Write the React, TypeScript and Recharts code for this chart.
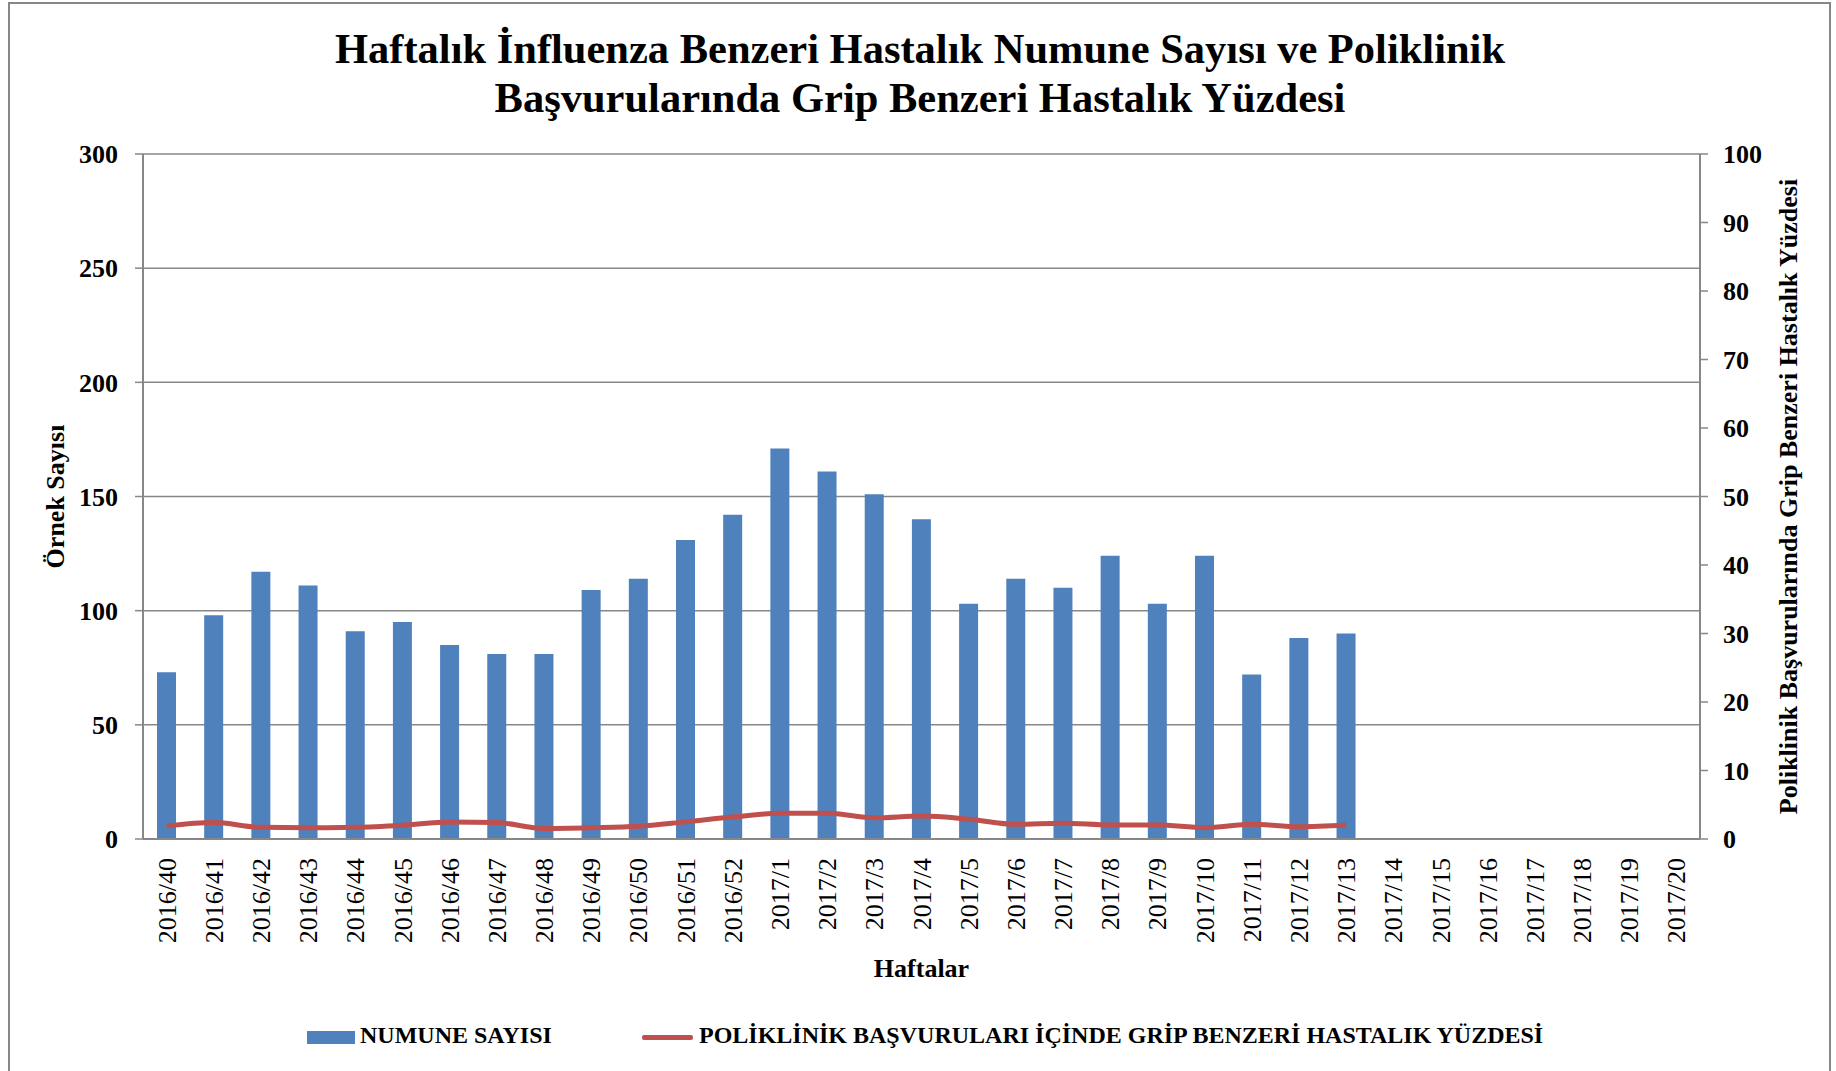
import React from "react";
import { ComposedChart, Bar, Line, XAxis, YAxis, CartesianGrid, Legend, Label } from "recharts";

const weeks = [
  "2016/40", "2016/41", "2016/42", "2016/43", "2016/44", "2016/45", "2016/46", "2016/47", "2016/48",
  "2016/49", "2016/50", "2016/51", "2016/52", "2017/1", "2017/2", "2017/3", "2017/4", "2017/5",
  "2017/6", "2017/7", "2017/8", "2017/9", "2017/10", "2017/11", "2017/12", "2017/13", "2017/14",
  "2017/15", "2017/16", "2017/17", "2017/18", "2017/19", "2017/20",
];

// numune sayısı (sol eksen)
const sampleCounts = [
  73, 98, 117, 111, 91, 95, 85, 81, 81, 109, 114, 131, 142, 171, 161, 151, 140, 103, 114, 110,
  124, 103, 124, 72, 88, 90, null, null, null, null, null, null, null,
];

// poliklinik başvurularında GBH yüzdesi (sağ eksen)
const ilkPercent = [
  1.9, 2.4, 1.7, 1.65, 1.7, 2.0, 2.5, 2.4, 1.55, 1.65, 1.85, 2.5, 3.2, 3.75, 3.75, 3.1, 3.35, 2.9,
  2.15, 2.3, 2.05, 2.05, 1.65, 2.15, 1.8, 2.05, null, null, null, null, null, null, null,
];

const leftTicks = [0, 50, 100, 150, 200, 250, 300];
const rightTicks = [0, 10, 20, 30, 40, 50, 60, 70, 80, 90, 100];

const data = weeks.map((week, i) => ({ week, numune: sampleCounts[i], yuzde: ilkPercent[i] }));

const FONT = '"Liberation Serif", "Times New Roman", serif';
const GRAY = "#878787";
const BLUE = "#4F81BD";
const RED = "#C0504D";

const WeekTick = (props: any) => {
  const { x, y, payload } = props;
  return (
    <text
      x={x}
      y={y}
      transform={`rotate(-90 ${x} ${y})`}
      dx={-17}
      dy={9}
      textAnchor="end"
      fontFamily={FONT}
      fontSize={26}
      fill="#000"
    >
      {payload.value}
    </text>
  );
};

const axisTitle = (text: string, dx: number) => (props: any) => {
  const { x, y, height } = props.viewBox;
  const cx = x + dx;
  const cy = y + height / 2;
  return (
    <text
      x={cx}
      y={cy}
      transform={`rotate(-90 ${cx} ${cy})`}
      textAnchor="middle"
      dominantBaseline="central"
      fontFamily={FONT}
      fontWeight="bold"
      fontSize={26}
      fill="#000"
    >
      {text}
    </text>
  );
};

const LegendBox = () => (
  <div style={{ position: "relative", height: 30, fontFamily: FONT, fontWeight: "bold", fontSize: 24, color: "#000" }}>
    <div style={{ position: "absolute", left: 307, top: 9, width: 48, height: 13, background: BLUE }} />
    <span style={{ position: "absolute", left: 360, top: 0, whiteSpace: "nowrap" }}>NUMUNE SAYISI</span>
    <div style={{ position: "absolute", left: 642, top: 13, width: 51, height: 5, background: RED, borderRadius: 2 }} />
    <span style={{ position: "absolute", left: 699, top: 0, whiteSpace: "nowrap" }}>
      POLİKLİNİK BAŞVURULARI İÇİNDE GRİP BENZERİ HASTALIK YÜZDESİ
    </span>
  </div>
);

export default function App() {
  return (
    <div style={{ position: "absolute", left: 0, top: 0, width: 1836, height: 1071, background: "#fff", overflow: "hidden" }}>
      <div
        style={{
          position: "absolute",
          left: 8,
          top: 2,
          width: 1823,
          height: 1080,
          border: `2px solid ${GRAY}`,
          boxSizing: "border-box",
        }}
      />
      <div
        style={{
          position: "absolute",
          left: 0,
          top: 24,
          width: 1840,
          textAlign: "center",
          fontFamily: FONT,
          fontWeight: "bold",
          fontSize: 42.5,
          lineHeight: "49px",
          color: "#000",
        }}
      >
        Haftalık İnfluenza Benzeri Hastalık Numune Sayısı ve Poliklinik
        <br />
        Başvurularında Grip Benzeri Hastalık Yüzdesi
      </div>
      <div style={{ position: "absolute", left: 0, top: 0 }}>
        <ComposedChart
          width={1836}
          height={1071}
          data={data}
          margin={{ top: 154, right: 0, bottom: 82, left: 0 }}
          barCategoryGap="60%"
        >
          <CartesianGrid yAxisId="left" vertical={false} stroke={GRAY} strokeWidth={1.5} />
          <XAxis
            dataKey="week"
            interval={0}
            height={150}
            tick={<WeekTick />}
            tickLine={false}
            tickSize={0}
            axisLine={{ stroke: GRAY, strokeWidth: 2 }}
          >
            <Label
              content={(props: any) => {
                const { x, y, width } = props.viewBox;
                return (
                  <text
                    x={x + width / 2}
                    y={y + 129}
                    textAnchor="middle"
                    dominantBaseline="central"
                    fontFamily={FONT}
                    fontWeight="bold"
                    fontSize={26}
                    fill="#000"
                  >
                    Haftalar
                  </text>
                );
              }}
            />
          </XAxis>
          <YAxis
            yAxisId="left"
            width={143}
            domain={[0, 300]}
            ticks={leftTicks}
            tickSize={8}
            tickMargin={17}
            axisLine={{ stroke: GRAY, strokeWidth: 2 }}
            tickLine={{ stroke: GRAY, strokeWidth: 1.5 }}
            tick={{ fontFamily: FONT, fontWeight: "bold", fontSize: 26, fill: "#000" }}
          >
            <Label content={axisTitle("Örnek Sayısı", 55)} />
          </YAxis>
          <YAxis
            yAxisId="right"
            orientation="right"
            width={136}
            domain={[0, 100]}
            ticks={rightTicks}
            tickSize={8}
            tickMargin={15}
            axisLine={{ stroke: GRAY, strokeWidth: 2 }}
            tickLine={{ stroke: GRAY, strokeWidth: 1.5 }}
            tick={{ fontFamily: FONT, fontWeight: "bold", fontSize: 26, fill: "#000" }}
          >
            <Label content={axisTitle("Poliklinik Başvurularında Grip Benzeri Hastalık Yüzdesi", 88)} />
          </YAxis>
          <Bar yAxisId="left" dataKey="numune" fill={BLUE} barSize={19} isAnimationActive={false} />
          <Line
            yAxisId="right"
            dataKey="yuzde"
            type="monotone"
            stroke={RED}
            strokeWidth={5}
            dot={false}
            activeDot={false}
            isAnimationActive={false}
          />
          <Legend
            verticalAlign="middle"
            layout="horizontal"
            content={<LegendBox />}
            wrapperStyle={{ top: 1022, left: 0, width: 1836, height: 30 }}
          />
        </ComposedChart>
      </div>
    </div>
  );
}
